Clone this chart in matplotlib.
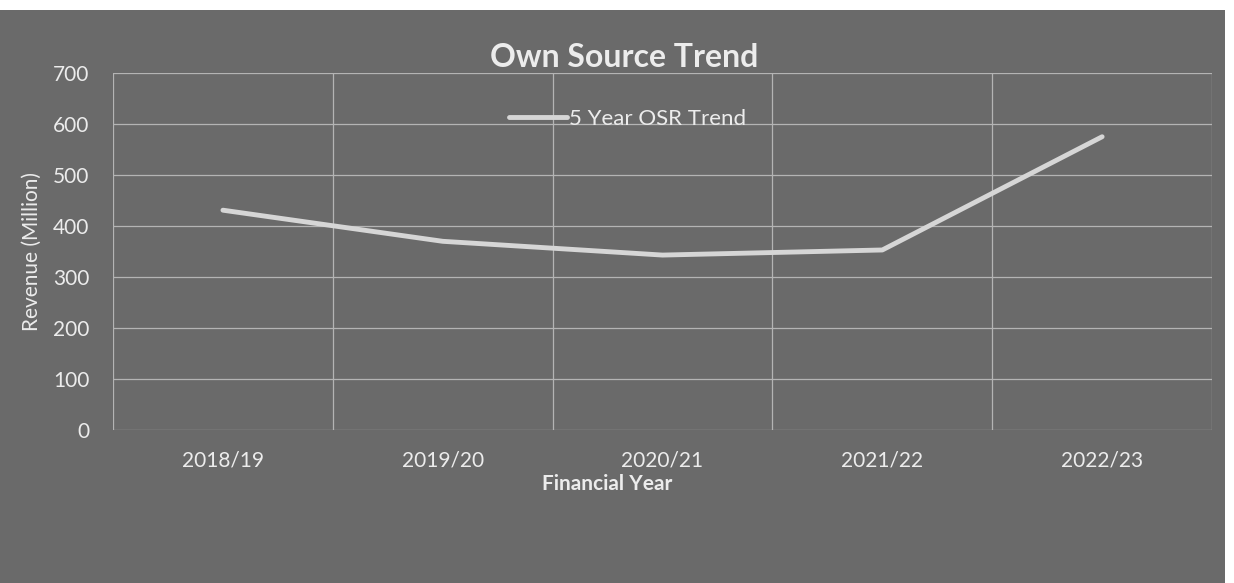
import matplotlib
matplotlib.use("Agg")
import matplotlib.pyplot as plt
from matplotlib.patches import Rectangle

years = ["2018/19", "2019/20", "2020/21", "2021/22", "2022/23"]
osr_trend = [431, 370, 343, 353, 575]
y_ticks = [0, 100, 200, 300, 400, 500, 600, 700]

plt.rcParams['font.family'] = ['Lato', 'DejaVu Sans']
txt = '#ececec'
bg = '#6a6a6a'

fig = plt.figure(figsize=(12.34, 5.83), dpi=100, facecolor='white')
# scanned grey page area
fig.patches.append(Rectangle((0.0, 0.0), 0.993, 0.983, transform=fig.transFigure,
                             facecolor=bg, edgecolor='none', zorder=-10))

ax = fig.add_axes([0.0916, 0.2624, 0.8906, 0.6124])
ax.set_facecolor('none')

x = list(range(len(years)))
ax.plot(x, osr_trend, color='#d6d6d6', linewidth=3.5, solid_capstyle='round',
        label='5 Year OSR Trend', zorder=3)

ax.set_xlim(-0.5, len(years) - 0.5)
ax.set_ylim(0, 700)
ax.set_yticks(y_ticks)
ax.set_xticks(x)
ax.set_xticklabels(years)

# gridlines: horizontal at values, vertical between categories
for v in y_ticks:
    ax.axhline(v, color='#b4b4b4', linewidth=0.9, zorder=1)
for b in [i + 0.5 for i in range(-1, len(years))]:
    ax.axvline(b, color='#b4b4b4', linewidth=0.9, zorder=1)

for s in ax.spines.values():
    s.set_visible(False)
ax.tick_params(axis='both', length=0, colors=txt, labelsize=15)
ax.tick_params(axis='x', pad=15)
ax.tick_params(axis='y', pad=17)

ax.set_title('Own Source Trend', color=txt, fontsize=23, fontweight='bold',
             x=0.465, pad=4)
ax.set_xlabel('Financial Year', color=txt, fontsize=15, fontweight='bold',
              labelpad=2, x=0.45)
ax.set_ylabel('Revenue (Million)', color=txt, fontsize=15, labelpad=8)

leg = ax.legend(loc='upper center', bbox_to_anchor=(0.468, 0.955), frameon=False,
                fontsize=16, handlelength=2.6, handletextpad=0.1)
for t in leg.get_texts():
    t.set_color(txt)

fig.savefig('out.png', dpi=100, facecolor=fig.get_facecolor())
